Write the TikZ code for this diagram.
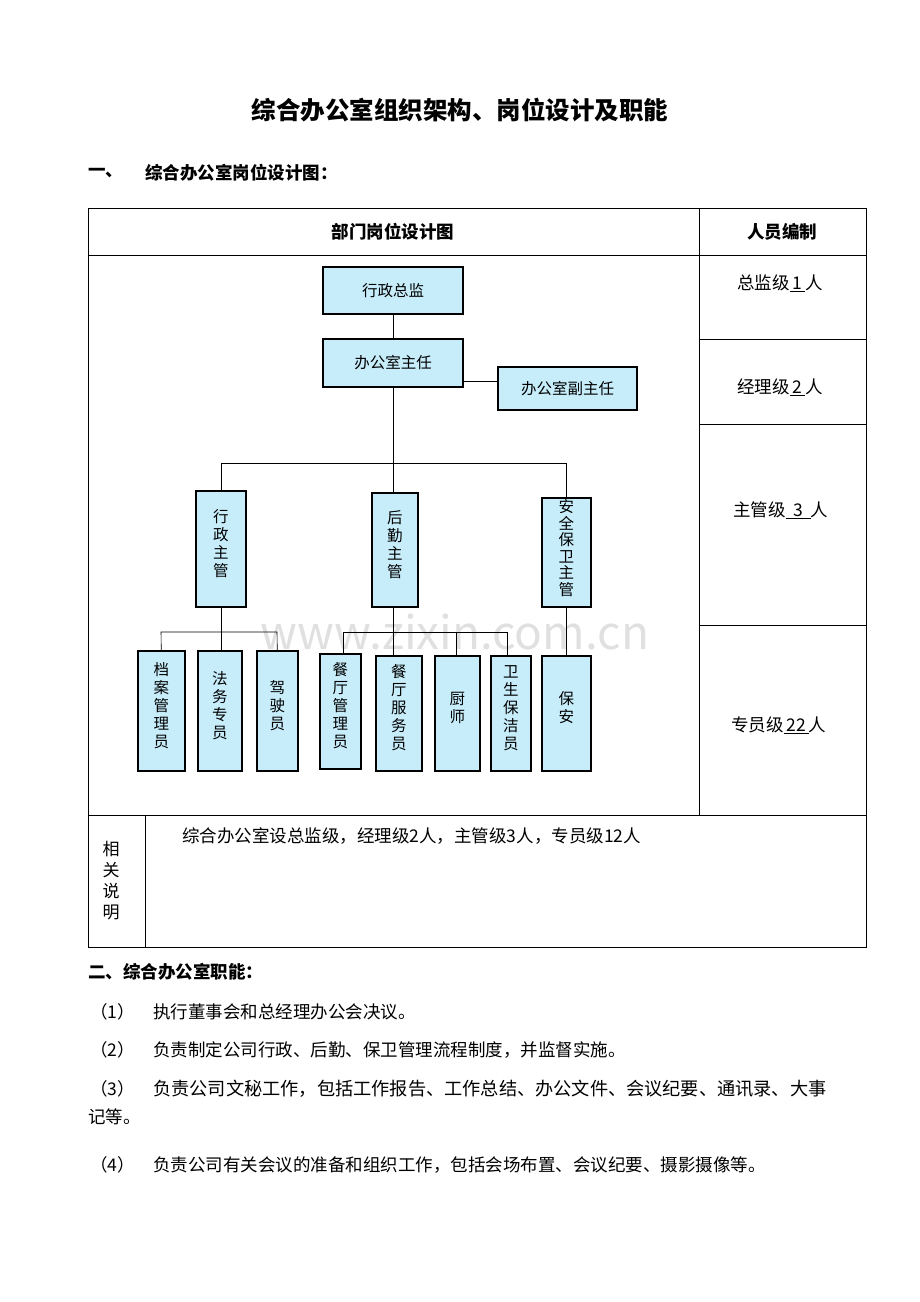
\documentclass[tikz,border=0pt]{standalone}
\usepackage{fontspec}
\setmainfont{Noto Sans CJK SC}
\begin{document}
\begin{tikzpicture}[x=1pt,y=-1pt,
  box/.style={draw,line width=1.6pt,fill=cyan!22,inner sep=0pt,font=\fontsize{15.5}{18}\selectfont},
  vbox/.style={box,anchor=north west,align=center},
  ln/.style={line width=0.6pt},
  txt/.style={anchor=west,inner sep=0pt,font=\fontsize{17.5}{20}\selectfont},
  btxt/.style={txt,font=\bfseries\fontsize{17.5}{20}\selectfont}]
\useasboundingbox (0,0) rectangle (920,1302);
\node[font=\bfseries\fontsize{24.5}{28}\selectfont] (title) at (460,110) {综合办公室组织架构、岗位设计及职能};
\node[btxt] (s1a) at (88,173) {一、};
\node[btxt] (s1b) at (145,173) {综合办公室岗位设计图：};
% table
\draw[ln] (88,208) rectangle (866,947);
\draw[ln] (88,255) -- (866,255) (699,208) -- (699,815) (88,815) -- (866,815) (145,815) -- (145,947);
\draw[ln] (699,339) -- (866,339) (699,424) -- (866,424) (699,625) -- (866,625);
\node[font=\bfseries\fontsize{17.5}{20}\selectfont] (h1) at (393,232) {部门岗位设计图};
\node[font=\bfseries\fontsize{17.5}{20}\selectfont] (h2) at (782,232) {人员编制};
\node[txt] (r1) at (737,283) {总监级\underline{\,1\,}人};
\node[txt] (r2) at (737,387) {经理级\underline{\,2\,}人};
\node[txt] (r3) at (733,510) {主管级\underline{\;\,3\;\,}人};
\node[txt] (r4) at (731,725) {专员级\underline{\,22\,}人};
\node[font=\fontsize{17}{21}\selectfont,align=center] (xg) at (111,881) {相\\关\\说\\明};
\node[txt] (note) at (182,836) {综合办公室设总监级，经理级2人，主管级3人，专员级12人};
% watermark
\node[text=black!12,font=\fontsize{46}{50}\selectfont] (wm) at (455,632) {www.zixin.com.cn};
% org chart
\node[box,minimum width=140,minimum height=47] (zj) at (393,290.5) {行政总监};
\node[box,minimum width=140,minimum height=48] (zr) at (393,363) {办公室主任};
\node[box,minimum width=139,minimum height=43] (fzr) at (567.5,388.5) {办公室副主任};
\draw[ln] (zj) -- (zr);
\draw[ln] (zr.east|-0,381) coordinate (c1) -- (fzr.west|-0,381);
\node[vbox,minimum width=50,minimum height=116] (xz) at (195,490) {\\[-16pt]行\\政\\主\\管};
\node[vbox,minimum width=46,minimum height=114] (hq) at (371,492) {\\[-16pt]后\\勤\\主\\管};
\node[vbox,minimum width=49,minimum height=109,font=\fontsize{15.5}{16.5}\selectfont] (aq) at (541,497) {\\[-12pt]安\\全\\保\\卫\\主\\管};
\draw[ln] (zr) -- (393,463) coordinate (j1);
\draw[ln] (xz.north) -- (xz.north|-j1) -- (aq.north|-j1) -- (aq.north);
\draw[ln] (j1) -- (j1|-hq.north);
\node[vbox,minimum width=47,minimum height=120] (da) at (137,650) {\\[-16pt]档\\案\\管\\理\\员};
\node[vbox,minimum width=44,minimum height=120] (fw) at (197,650) {\\[-16pt]法\\务\\专\\员};
\node[vbox,minimum width=41,minimum height=120] (js) at (256,650) {\\[-16pt]驾\\驶\\员};
\node[vbox,minimum width=41,minimum height=115] (ctg) at (319,653) {\\[-16pt]餐\\厅\\管\\理\\员};
\node[vbox,minimum width=46,minimum height=115] (ctf) at (375,655) {\\[-16pt]餐\\厅\\服\\务\\员};
\node[vbox,minimum width=45,minimum height=115] (cs) at (434,655) {\\[-16pt]厨\\师};
\node[vbox,minimum width=40,minimum height=115] (ws) at (490,655) {\\[-16pt]卫\\生\\保\\洁\\员};
\node[vbox,minimum width=49,minimum height=115] (ba) at (541,655) {\\[-16pt]保\\安};
\draw[ln] (xz.south) -- (xz.south|-0,650);
\draw[ln] (da.north) -- (161,632) -- (277,632) -- (js.north);
\draw[ln] (j1|-hq.south) -- (j1|-ctf.north);
\draw[ln] (ctg.north -| 343,0) -- (343,632) -- (507,632) -- (507,655);
\draw[ln] (456,632) -- (456,655);
\draw[ln] (aq.south) -- (ba.north);
% section 2
\node[btxt] (s2) at (88,972) {二、综合办公室职能：};
\node[txt] (n1) at (90,1012) {（1）};
\node[txt] (t1) at (153,1012) {执行董事会和总经理办公会决议。};
\node[txt] (n2) at (90,1050) {（2）};
\node[txt] (t2) at (153,1050) {负责制定公司行政、后勤、保卫管理流程制度，并监督实施。};
\node[txt] (n3) at (90,1089) {（3）};
\node[txt,font=\fontsize{18.2}{20}\selectfont] (t3) at (153,1089) {负责公司文秘工作，包括工作报告、工作总结、办公文件、会议纪要、通讯录、大事};
\node[txt] (t3b) at (88,1117) {记等。};
\node[txt] (n4) at (90,1165) {（4）};
\node[txt] (t4) at (153,1165) {负责公司有关会议的准备和组织工作，包括会场布置、会议纪要、摄影摄像等。};
\end{tikzpicture}
\end{document}
